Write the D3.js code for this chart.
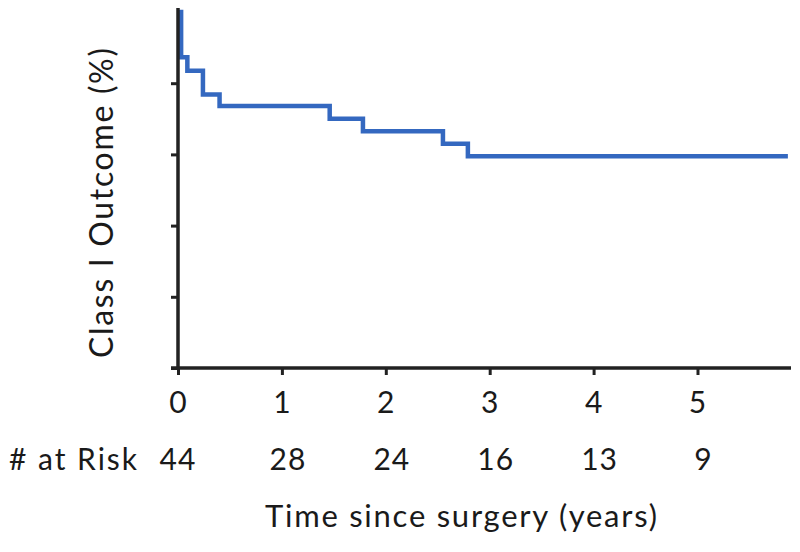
<!DOCTYPE html>
<html><head><meta charset="utf-8">
<script src="https://cdn.jsdelivr.net/npm/d3@7/dist/d3.min.js"></script>
<style>body{margin:0;background:#fff}svg{display:block}text{font-family:Lato,"Open Sans",sans-serif;fill:#1a1a1a}</style>
</head><body>
<script>
// Kaplan-Meier step curve: time (years) and Class I outcome (%)
const stepTimes  = [0, 0.03, 0.09, 0.24, 0.40, 1.46, 1.78, 2.55, 2.79, 5.87];
const stepValues = [100, 87.3, 83.5, 76.8, 73.6, 70.0, 66.5, 63.0, 59.5, 59.5];
const xTicks = [0, 1, 2, 3, 4, 5];
const xTickLabels = ["0", "1", "2", "3", "4", "5"];
const yTicks = [0, 20, 40, 60, 80];
const atRisk = [44, 28, 24, 16, 13, 9];

const W = 800, H = 552;
const svg = d3.select("body").append("svg").attr("width", W).attr("height", H);
const x = d3.scaleLinear().domain([0, 5.9]).range([178, 791]);
const y = d3.scaleLinear().domain([0, 100]).range([368, 12]);

// curve
const pts = stepTimes.map((t, i) => [t, stepValues[i]]);
svg.append("path")
  .attr("d", d3.line().x(d => x(d[0])).y(d => y(d[1])).curve(d3.curveStepAfter)(pts))
  .attr("fill", "none").attr("stroke", "#3468c0").attr("stroke-width", 4.5)
  .attr("stroke-linejoin", "miter");

// axes
const yAxis = svg.append("g").attr("transform", `translate(${x(0)},0)`)
  .call(d3.axisLeft(y).tickValues(yTicks).tickSize(7).tickFormat(""));
yAxis.select(".domain").attr("d", `M-7,${y(0)}H0V${y(100) - 4}`);
const xAxis = svg.append("g").attr("transform", `translate(0,${y(0)})`)
  .call(d3.axisBottom(x).tickValues(xTicks).tickSize(7).tickFormat(""));
xAxis.select(".domain").attr("d", `M${x(0)},0H${x(5.9)}`);
svg.selectAll(".domain").attr("stroke", "#222").attr("stroke-width", 3.5);
svg.selectAll(".tick line").attr("stroke", "#222").attr("stroke-width", 3);

// tick labels
svg.append("g").selectAll("text").data(xTicks).join("text")
  .attr("x", d => x(d)).attr("y", 413).attr("text-anchor", "middle")
  .attr("font-size", 30).text((d, i) => xTickLabels[i]);

// at risk row
svg.append("text").attr("x", 9).attr("y", 470).attr("font-size", 30)
  .attr("textLength", 128).attr("lengthAdjust", "spacing").text("# at Risk");
svg.append("g").selectAll("text").data(atRisk).join("text")
  .attr("x", (d, i) => x(xTicks[i]) + (i === 0 ? 0 : 6)).attr("y", 470)
  .attr("text-anchor", "middle").attr("font-size", 30).attr("letter-spacing", 1).text(d => d);

// titles
svg.append("text").attr("x", 265).attr("y", 527)
  .attr("font-size", 31).attr("textLength", 392).attr("lengthAdjust", "spacing")
  .text("Time since surgery (years)");
svg.append("text").attr("transform", "translate(113,358) rotate(-90)")
  .attr("font-size", 32).attr("textLength", 310).attr("lengthAdjust", "spacing")
  .text("Class I Outcome (%)");
</script>
</body></html>
